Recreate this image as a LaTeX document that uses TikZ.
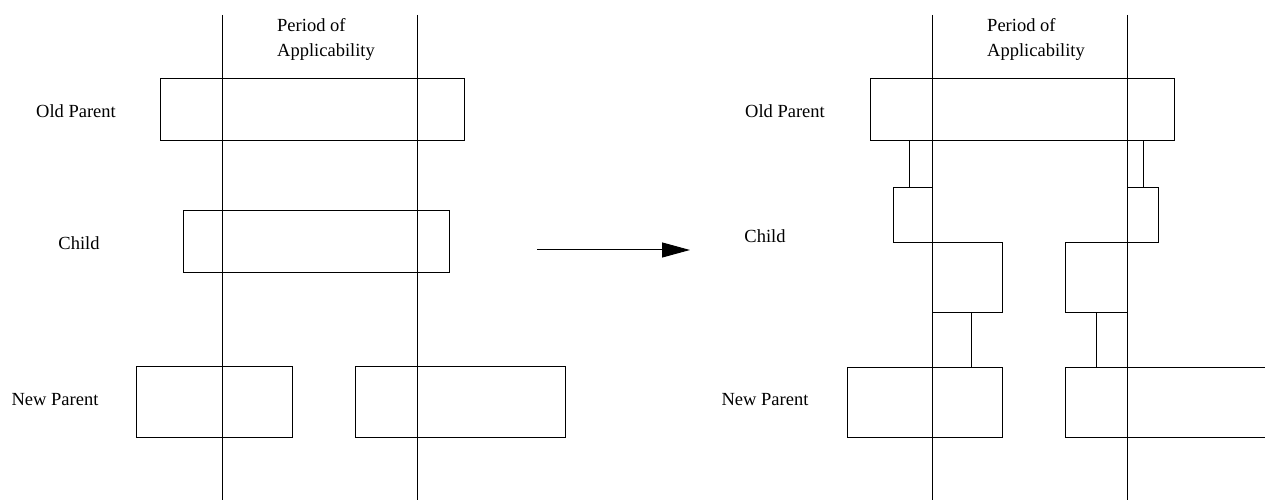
\documentclass[tikz,border=0pt]{standalone}
\usepackage{fontspec}
\setmainfont{Liberation Serif}
\usetikzlibrary{arrows.meta}
\begin{document}
\begin{tikzpicture}[x=1pt,y=-1pt,
  box/.style={draw, line width=1pt, inner sep=0pt, anchor=north west},
  vline/.style={line width=1pt},
  conn/.style={line width=1pt},
  lbl/.style={font=\fontsize{18.5}{25}\selectfont, inner sep=0pt}]
\useasboundingbox (0,0) rectangle (1265,502);
% ---------- left panel ----------
\coordinate (lv1t) at (222,15); \coordinate (lv1b) at (222,500);
\coordinate (lv2t) at (417,15); \coordinate (lv2b) at (417,500);
\node[box, minimum width=304pt, minimum height=62pt] (lop) at (160,78) {};
\node[box, minimum width=266pt, minimum height=62pt] (lch) at (183,210) {};
\node[box, minimum width=156pt, minimum height=71pt] (lnp1) at (136,366) {};
\node[box, minimum width=210pt, minimum height=71pt] (lnp2) at (355,366) {};
\draw[vline] (lv1t) -- (lv1b);
\draw[vline] (lv2t) -- (lv2b);
\node[lbl] (llop) at (76,111) {Old Parent};
\node[lbl] (llch) at (79,243) {Child};
\node[lbl] (llnp) at (55,400) {New Parent};
\node[lbl, align=left, anchor=north west] (lpa) at (277,18) {Period of\\Applicability};
% ---------- arrow ----------
\coordinate (a1) at (537,250); \coordinate (a2) at (690,250);
\draw[line width=1pt, -{Triangle[length=28pt,width=15pt]}] (a1) -- (a2);
% ---------- right panel ----------
\coordinate (rv1t) at (932,15); \coordinate (rv1b) at (932,500);
\coordinate (rv2t) at (1127,15); \coordinate (rv2b) at (1127,500);
\node[box, minimum width=304pt, minimum height=62pt] (rop) at (870,78) {};
\node[box, minimum width=39pt, minimum height=55pt] (rcs1) at (893,187) {};
\node[box, minimum width=31pt, minimum height=55pt] (rcs2) at (1127,187) {};
\node[box, minimum width=70pt, minimum height=70pt] (rcm1) at (932,242) {};
\node[box, minimum width=62pt, minimum height=70pt] (rcm2) at (1065,242) {};
\node[box, minimum width=155pt, minimum height=70pt] (rnp1) at (847,367) {};
\coordinate (rnp2tl) at (1065,367); \coordinate (rnp2bl) at (1065,437);
\coordinate (rnp2tr) at (1265,367); \coordinate (rnp2br) at (1265,437);
\draw[line width=1pt] (rnp2tr) -- (rnp2tl) -- (rnp2bl) -- (rnp2br);
\coordinate (c1) at (909,0); \coordinate (c2) at (1143,0);
\coordinate (c3) at (971,0); \coordinate (c4) at (1096,0);
\draw[conn] (rop.south -| c1) -- (rcs1.north -| c1);
\draw[conn] (rop.south -| c2) -- (rcs2.north -| c2);
\draw[conn] (rcm1.south -| c3) -- (rnp1.north -| c3);
\draw[conn] (rcm2.south -| c4) -- (rnp2tl -| c4);
\draw[vline] (rv1t) -- (rv1b);
\draw[vline] (rv2t) -- (rv2b);
\node[lbl] (rlop) at (785,111) {Old Parent};
\node[lbl] (rlch) at (765,236) {Child};
\node[lbl] (rlnp) at (765,400) {New Parent};
\node[lbl, align=left, anchor=north west] (rpa) at (987,18) {Period of\\Applicability};
\end{tikzpicture}
\end{document}
